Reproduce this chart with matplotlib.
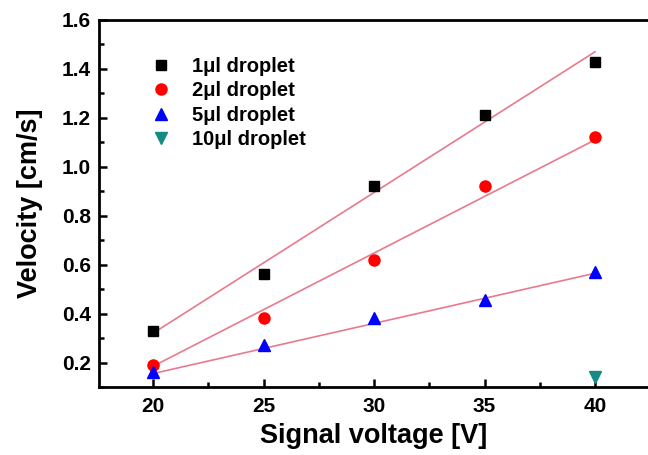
import numpy as np
import matplotlib
matplotlib.use("Agg")
import matplotlib.pyplot as plt
from matplotlib.ticker import MultipleLocator

voltage = [20, 25, 30, 35, 40]
v_1ul = [0.33, 0.56, 0.92, 1.21, 1.43]
v_2ul = [0.19, 0.38, 0.62, 0.92, 1.12]
v_5ul = [0.16, 0.27, 0.38, 0.455, 0.57]
v_10ul_x = [40]
v_10ul = [0.14]
labels = ["1μl droplet", "2μl droplet", "5μl droplet", "10μl droplet"]

# linear fit lines (value at 20 V and at 40 V)
fit_x = [20, 40]
fit_1ul = [0.32, 1.47]
fit_2ul = [0.185, 1.11]
fit_5ul = [0.155, 0.565]

plt.rcParams['font.family'] = ['Liberation Sans', 'DejaVu Sans']
plt.rcParams['font.weight'] = 'bold'

fig = plt.figure(figsize=(6.48, 4.55), dpi=100)
ax = fig.add_axes([99/648, 1-387/455, 1-99/648, (387-20)/455])

line_c = '#e87a8e'
for ys in (fit_1ul, fit_2ul, fit_5ul):
    ax.plot(fit_x, ys, color=line_c, lw=1.2, zorder=1)

ax.plot(voltage, v_1ul, 's', color='black', ms=7.5, ls='none', label=labels[0], zorder=3)
ax.plot(voltage, v_2ul, 'o', color='#ff0000', ms=8, ls='none', label=labels[1], zorder=3)
ax.plot(voltage, v_5ul, '^', color='#0000ff', ms=8.5, ls='none', label=labels[2], zorder=3)
ax.plot(v_10ul_x, v_10ul, 'v', color='#168a84', ms=8.5, ls='none', label=labels[3], zorder=3)

ax.set_xlim(17.55, 20 + (648-153)/110.5*5)
ax.set_ylim(0.1, 1.6)
ax.xaxis.set_minor_locator(MultipleLocator(2.5))
ax.yaxis.set_minor_locator(MultipleLocator(0.1))
ax.set_yticks([0.2, 0.4, 0.6, 0.8, 1.0, 1.2, 1.4, 1.6])
ax.set_xticks([20, 25, 30, 35, 40])
ax.tick_params(which='both', direction='in', width=1.8, top=False, right=False)
ax.tick_params(which='major', length=6, labelsize=15)
ax.tick_params(axis='y', which='major', pad=6)
ax.tick_params(axis='x', which='major', pad=7)
ax.tick_params(which='minor', length=3.5)
for lab in ax.get_xticklabels() + ax.get_yticklabels():
    lab.set_fontweight('bold')
for s in ('left', 'bottom', 'top'):
    ax.spines[s].set_linewidth(2)
ax.spines['right'].set_visible(False)

ax.set_xlabel('Signal voltage [V]', fontsize=19.5, fontweight='bold', labelpad=5)
ax.set_ylabel('Velocity [cm/s]', fontsize=19.5, fontweight='bold', labelpad=13)

leg = ax.legend(loc='upper left', bbox_to_anchor=(0.076, 0.921), frameon=False,
                fontsize=14.5, handletextpad=0.95, labelspacing=0.27,
                handlelength=1.2, borderaxespad=0)
for t in leg.get_texts():
    t.set_fontweight('bold')

fig.savefig('out.png', dpi=100)
